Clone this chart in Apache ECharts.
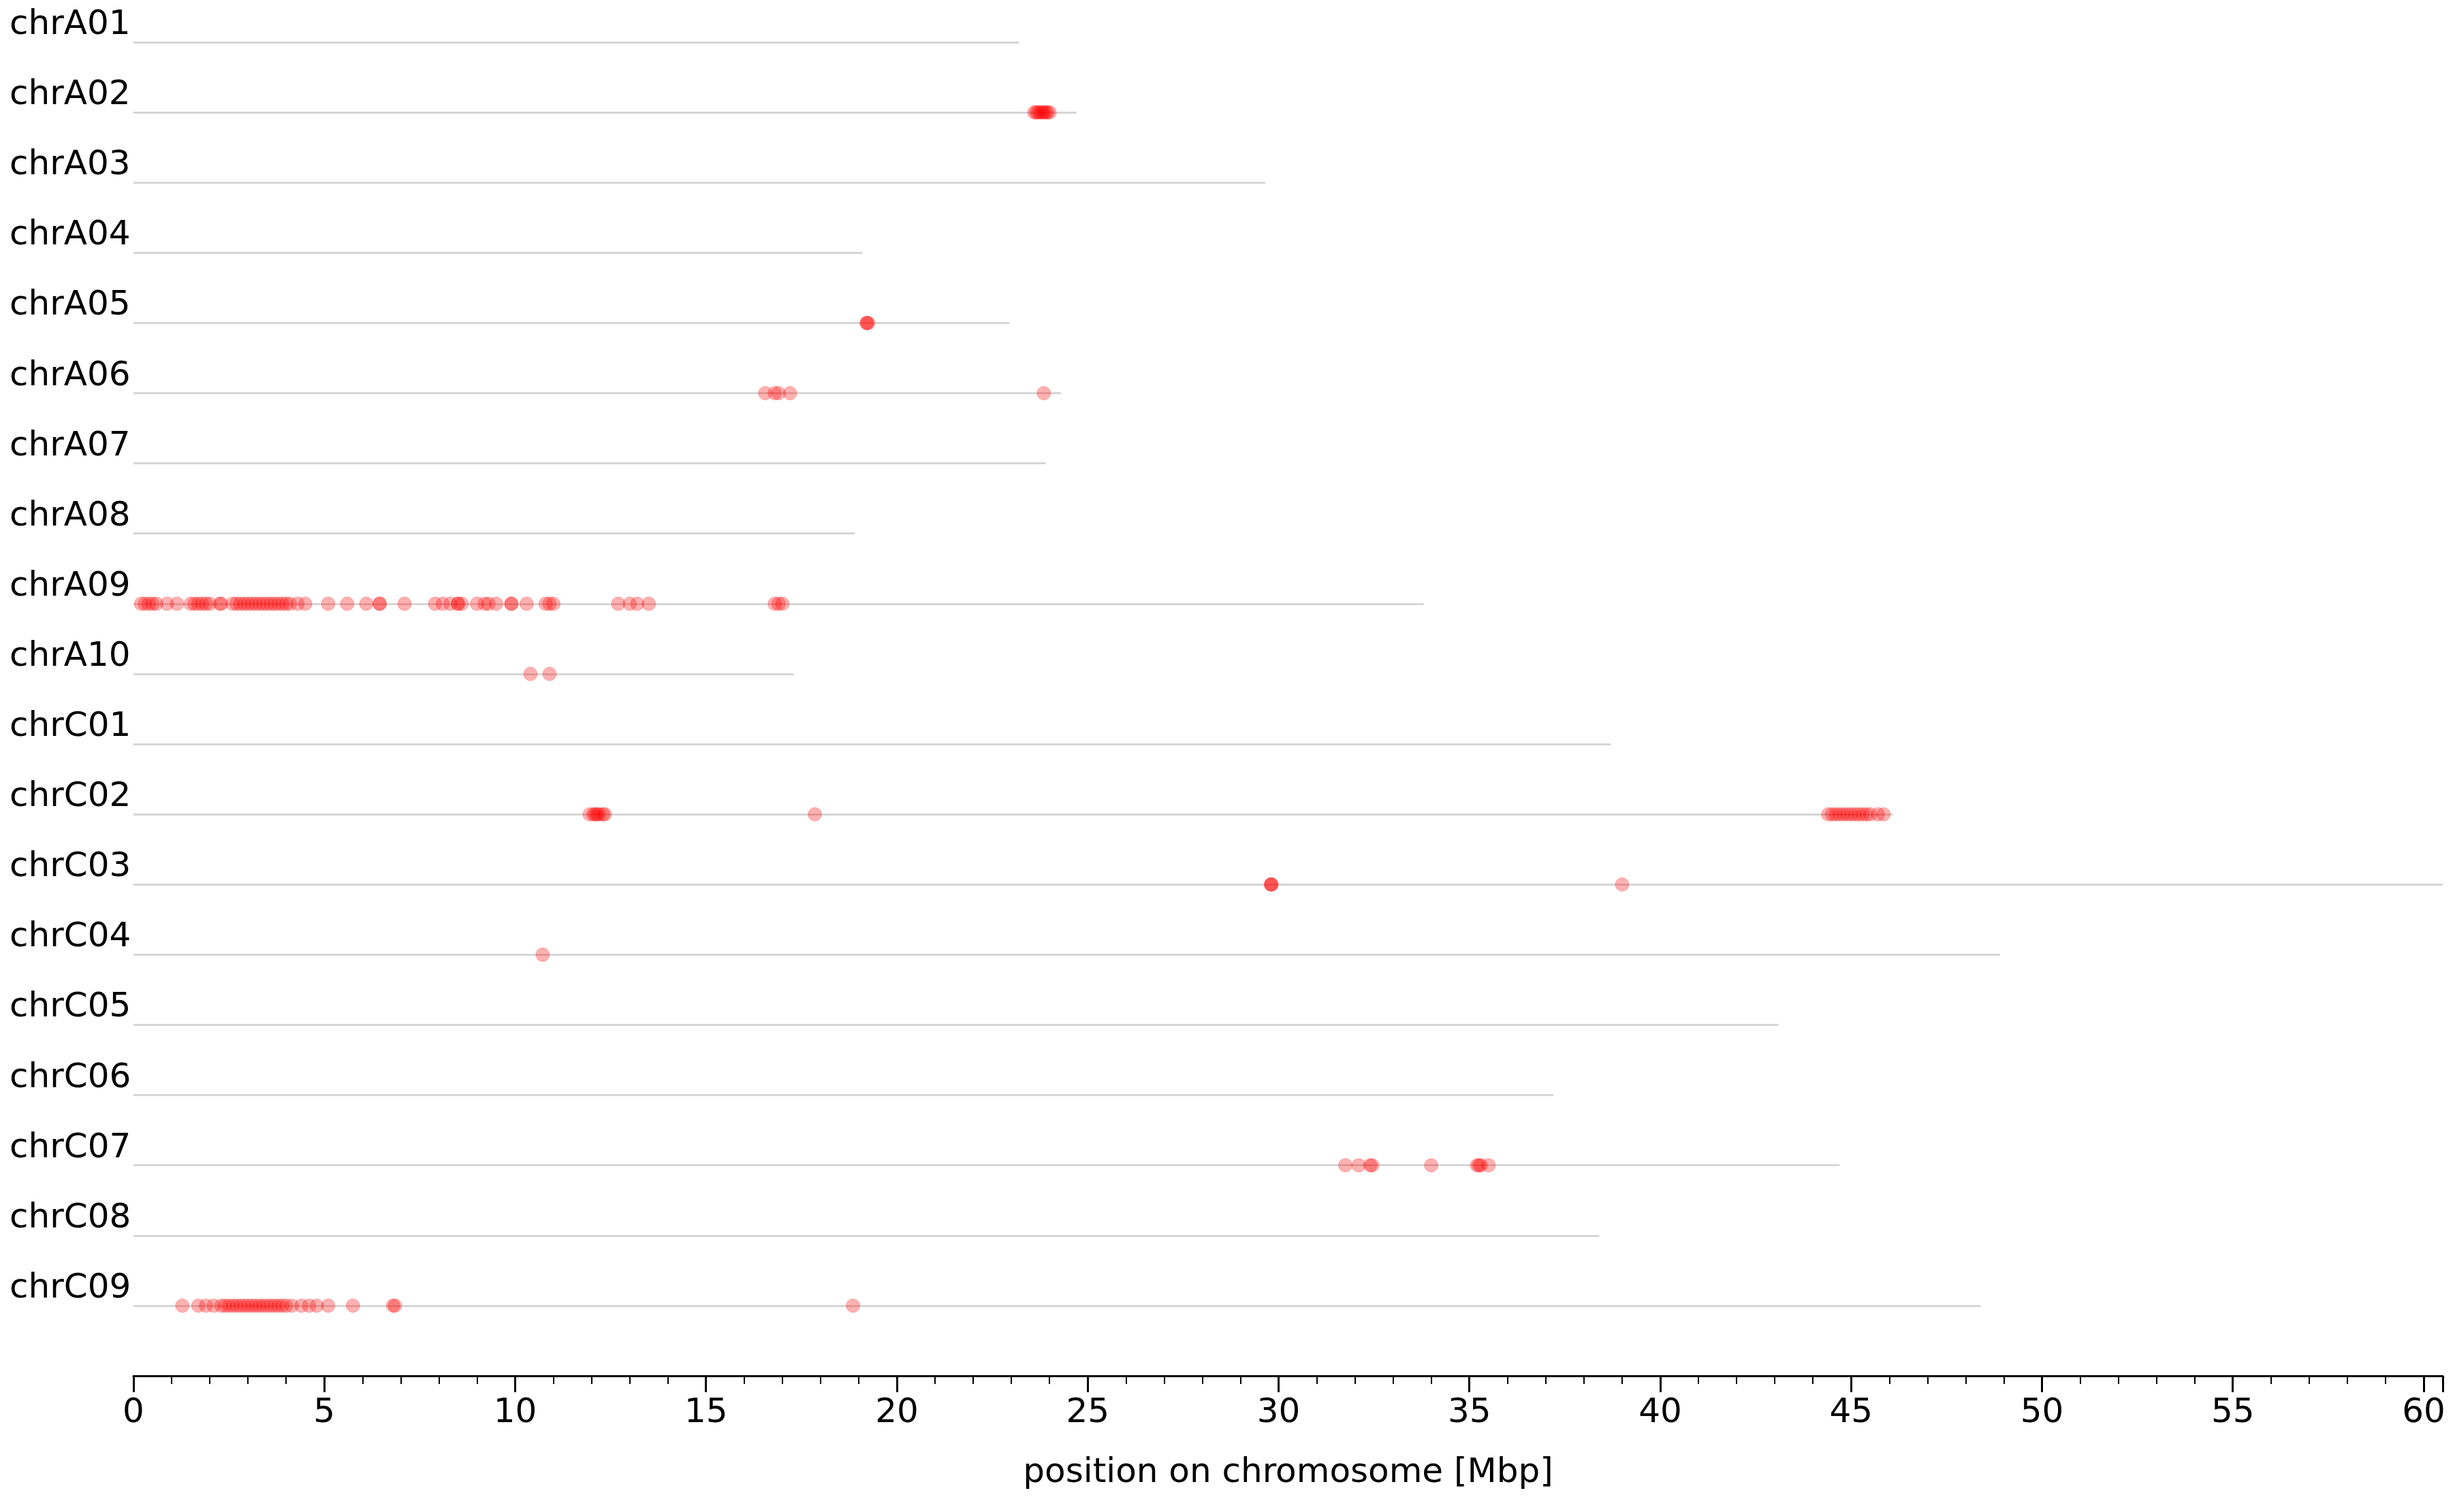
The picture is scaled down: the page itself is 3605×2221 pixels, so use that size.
<!DOCTYPE html>
<html>
<head>
<meta charset="utf-8">
<script src="https://cdn.jsdelivr.net/npm/echarts@6/dist/echarts.min.js"></script>
<style>html,body{margin:0;padding:0;background:#fff}#chart{width:3605px;height:2221px}</style>
</head>
<body>
<div id="chart"></div>
<script>
const chromosomes = ['chrA01','chrA02','chrA03','chrA04','chrA05','chrA06','chrA07','chrA08','chrA09','chrA10',
  'chrC01','chrC02','chrC03','chrC04','chrC05','chrC06','chrC07','chrC08','chrC09']
const lengths = [23.2, 24.7, 29.65, 19.1, 22.95, 24.3, 23.9, 18.9, 33.8, 17.3,
  38.7, 46.1, 60.5, 48.9, 43.1, 37.2, 44.7, 38.4, 48.4]

// hit positions in Mbp, one list per chromosome
const hits = [
  [],
  [23.6, 23.65, 23.7, 23.75, 23.8, 23.85, 23.9, 23.95, 24.0],
  [],
  [],
  [19.2, 19.22, 19.25],
  [16.55, 16.8, 16.9, 17.2, 23.85],
  [],
  [],
  [0.2, 0.3, 0.4, 0.5, 0.6, 0.88, 1.14, 1.5, 1.6, 1.7, 1.8, 1.9, 2.0, 2.26, 2.3,
   2.6, 2.7, 2.8, 2.9, 3.0, 3.1, 3.2, 3.3, 3.4, 3.5, 3.6, 3.7, 3.8, 3.9, 4.0,
   4.1, 4.3, 4.5, 5.1, 5.6, 6.1, 6.45, 6.45, 7.1, 7.9, 8.1, 8.3, 8.5, 8.5, 8.6,
   9.0, 9.2, 9.3, 9.5, 9.9, 9.9, 10.3, 10.8, 10.9, 11.0, 12.7, 13.0, 13.2, 13.5,
   16.8, 16.9, 17.0],
  [10.4, 10.9],
  [],
  [11.95, 12.05, 12.1, 12.15, 12.2, 12.3, 12.35, 17.85,
   44.4, 44.5, 44.6, 44.7, 44.8, 44.9, 45.0, 45.1, 45.2, 45.3, 45.4, 45.5, 45.7, 45.85],
  [29.8, 29.8, 29.82, 39.0],
  [10.72],
  [],
  [],
  [31.75, 32.1, 32.4, 32.45, 34.0, 35.2, 35.25, 35.3, 35.5],
  [],
  [1.28, 1.7, 1.9, 2.1, 2.3, 2.4, 2.5, 2.6, 2.7, 2.8, 2.9, 3.0, 3.1, 3.2, 3.3, 3.4,
   3.5, 3.6, 3.7, 3.8, 3.9, 4.0, 4.15, 4.4, 4.6, 4.8, 5.1, 5.75, 6.8, 6.85, 18.85]
]

const lineData = lengths.map((len, i) => ({ coords: [[0, i], [len, i]] }))
const dotData = []
hits.forEach((list, i) => list.forEach(p => dotData.push([p, i])))

const chart = echarts.init(document.getElementById('chart'))
chart.setOption({
  backgroundColor: '#fff',
  animation: false,
  grid: { left: 196, right: 18, top: 62, bottom: 200 },
  xAxis: {
    type: 'value',
    position: 'bottom',
    min: 0, max: 60.5,
    interval: 5,
    name: 'position on chromosome [Mbp]',
    nameLocation: 'middle',
    nameGap: 118,
    nameTextStyle: { color: '#000', fontSize: 50, fontFamily: 'DejaVu Sans' },
    axisLine: { onZero: false, lineStyle: { color: '#000', width: 3 } },
    axisTick: { length: 24, lineStyle: { color: '#000', width: 3 } },
    minorTick: { show: true, splitNumber: 5, length: 12, lineStyle: { color: '#000', width: 2 } },
    axisLabel: { color: '#000', fontSize: 50, fontFamily: 'DejaVu Sans', margin: 30, showMaxLabel: false },
    splitLine: { show: false },
  },
  yAxis: {
    type: 'value',
    inverse: true,
    min: 0, max: 19,
    interval: 1,
    axisLine: { show: false },
    axisTick: { show: false },
    splitLine: { show: false },
    axisLabel: {
      color: '#000', fontSize: 50, fontFamily: 'DejaVu Sans',
      align: 'left', verticalAlign: 'bottom', margin: 182,
      lineHeight: 50,
      formatter: v => chromosomes[v] || '',
    },
  },
  series: [
    {
      type: 'lines',
      coordinateSystem: 'cartesian2d',
      data: lineData,
      lineStyle: { color: '#d6d6d6', width: 3, opacity: 1 },
      silent: true,
      z: 1,
    },
    {
      type: 'scatter',
      data: dotData,
      symbolSize: 20,
      itemStyle: { color: 'rgba(255,0,0,0.38)', borderColor: 'rgba(255,0,0,0.3)', borderWidth: 1 },
      z: 2,
    },
  ],
})
</script>
</body>
</html>
